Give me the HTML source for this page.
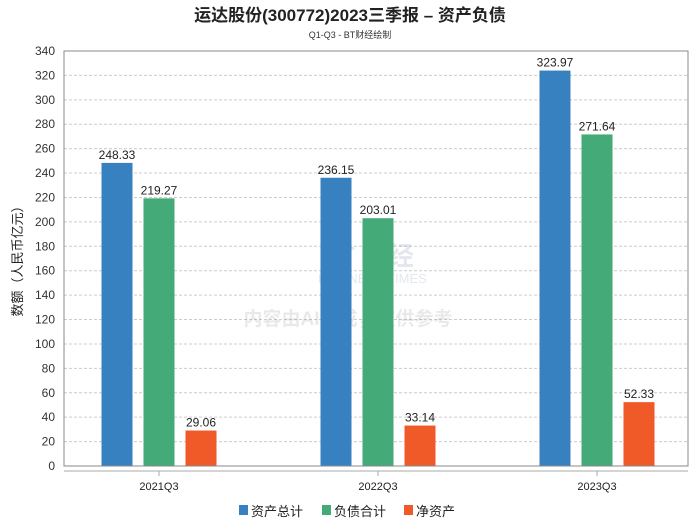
<!DOCTYPE html>
<html><head><meta charset="utf-8"><style>
body{margin:0;background:#fff;}
svg text{font-family:"Liberation Sans","Noto Sans CJK SC",sans-serif;}
</style></head><body>
<svg width="700" height="524" viewBox="0 0 700 524">
<text x="350" y="21" text-anchor="middle" font-size="17" font-weight="bold" fill="#222">运达股份(300772)2023三季报 – 资产负债</text>
<text x="350" y="38" text-anchor="middle" font-size="9" fill="#333">Q1-Q3 - BT财经绘制</text>
<g id="grid"></g>
<g id="wm" opacity="0.18">
<text x="320" y="265" font-size="26" font-weight="bold" fill="#6a7fa8" font-family="Liberation Serif">BT 财经</text>
<text x="318" y="283" font-size="13" fill="#6a7fa8" font-family="Liberation Serif">BUSINESS TIMES</text>
<text x="348" y="325" text-anchor="middle" font-size="19" font-weight="bold" fill="#888">内容由AI生成，仅供参考</text>
</g>
<g id="bars"></g>
<rect x="64" y="51" width="624" height="415" fill="none" stroke="#888" stroke-width="1"/>
<line x1="64" y1="471" x2="688" y2="471" stroke="#aaa"/>
<g id="xl"></g>
<text transform="translate(22,258) rotate(-90)" text-anchor="middle" font-size="13" fill="#222">数额（人民币亿元）</text>
<g font-size="13" fill="#222">
<rect x="239" y="505" width="9" height="10" fill="#3781c1"/>
<text x="251" y="516">资产总计</text>
<rect x="322" y="505" width="9" height="10" fill="#44aa77"/>
<text x="334" y="516">负债合计</text>
<rect x="404" y="505" width="9" height="10" fill="#f05a28"/>
<text x="416" y="516">净资产</text>
</g>
</svg>
<script>
const categories=["2021Q3","2022Q3","2023Q3"];
const assets=[248.33,236.15,323.97];
const liabilities=[219.27,203.01,271.64];
const equity=[29.06,33.14,52.33];
const yTicks=[0,20,40,60,80,100,120,140,160,180,200,220,240,260,280,300,320,340];
const NS="http://www.w3.org/2000/svg";
const y0=466,y1=51,yMax=340;
function ys(v){return y0-(v/yMax)*(y0-y1);}
function xc(i){return 159+219*i;}
function mk(t,a,p){const e=document.createElementNS(NS,t);for(const k in a)e.setAttribute(k,a[k]);p.appendChild(e);return e;}
const grid=document.getElementById('grid');
yTicks.forEach(v=>{
 const l=mk('line',{x1:64,x2:688,y1:ys(v),y2:ys(v),stroke:'#ccc','stroke-dasharray':'3,2'},grid);
 
 
 const t=mk('text',{x:55,y:ys(v)+4,'text-anchor':'end','font-size':12,fill:'#333'},grid);
 t.textContent=v;
 
 
});
const bars=document.getElementById('bars');
const series=[[assets,'#3781c1',-42,'assets'],[liabilities,'#44aa77',0,'liabilities'],[equity,'#f05a28',42,'equity']];
series.forEach(([arr,col,off,nm])=>{
 arr.forEach((v,i)=>{
  const cx=xc(i)+off;
  const r=mk('rect',{x:cx-15.5,y:ys(v),width:31,height:y0-ys(v),fill:col},bars);
  
  
  const t=mk('text',{x:cx,y:ys(v)-4,'text-anchor':'middle','font-size':12,fill:'#222'},bars);
  t.textContent=v.toFixed(2);
  
  
 });
});
const xl=document.getElementById('xl');
categories.forEach((c,i)=>{
 const tk=mk('line',{x1:xc(i),x2:xc(i),y1:471,y2:476,stroke:'#aaa'},xl);
 
 
 const t=mk('text',{x:xc(i),y:490,'text-anchor':'middle','font-size':11,fill:'#222'},xl);
 t.textContent=c;
 
 
});
</script>
</body></html>
